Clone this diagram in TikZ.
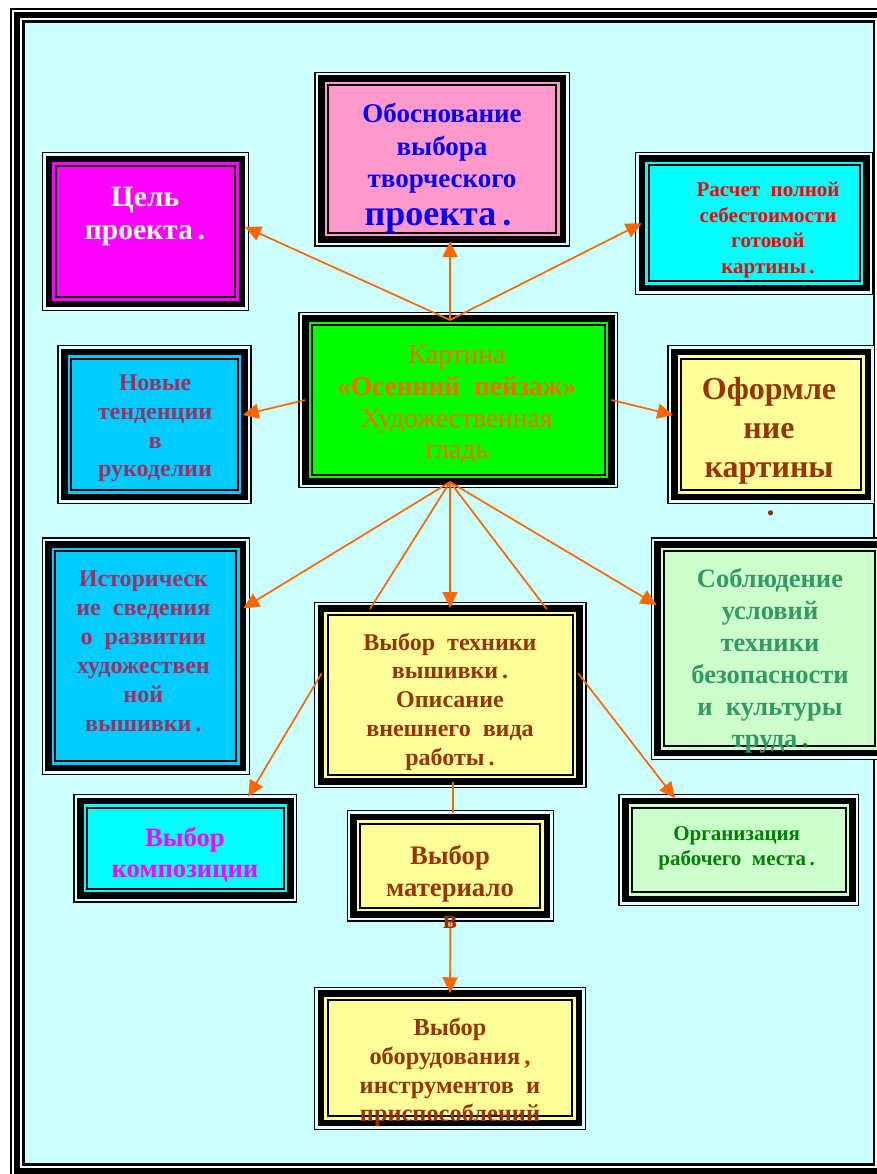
\documentclass[tikz,border=0pt]{standalone}
\usepackage{fontspec}
\setmainfont{Liberation Serif}
\usetikzlibrary{arrows.meta,calc}
\definecolor{bgc}{HTML}{CCFFFF}
\definecolor{gapc}{HTML}{DDFFFF}
\definecolor{magc}{HTML}{FF00FF}
\definecolor{pinkc}{HTML}{FF99CC}
\definecolor{cyanc}{HTML}{00FFFF}
\definecolor{greenc}{HTML}{00FF00}
\definecolor{yelc}{HTML}{FFFF99}
\definecolor{skyc}{HTML}{00CCFF}
\definecolor{lgreenc}{HTML}{CCFFCC}
\definecolor{brownc}{HTML}{993300}
\definecolor{plumc}{HTML}{993366}
\definecolor{seac}{HTML}{339966}
\definecolor{orangec}{HTML}{FF6600}
\definecolor{dgreenc}{HTML}{008000}
\definecolor{bluec}{HTML}{0000FF}
\definecolor{redc}{HTML}{FF0000}
\newcommand\insetr[2]{\fill[#2] ([shift={(#1pt,-#1pt)}]path picture bounding box.north west) rectangle ([shift={(-#1pt,#1pt)}]path picture bounding box.south east);}
\newcommand\fsz[2]{\fontsize{#1}{#2}\selectfont}
\tikzset{
  fbox/.style={rectangle, inner sep=0pt, outer sep=0pt, fill=black,
    path picture={\insetr{1.3}{gapc}\insetr{3.7}{black}\insetr{10.3}{#1}\insetr{12.7}{black}\insetr{14.7}{#1}}},
  arr/.style={draw=orangec, line width=1.7pt, -{Triangle[length=16pt,width=15pt]}},
  ln/.style={draw=orangec, line width=1.7pt},
  txt/.style={align=center, inner sep=0pt},
}
\begin{document}
\begin{tikzpicture}[x=1pt,y=-1pt]
\clip (0,0) rectangle (877,1174);
\useasboundingbox (0,0) rectangle (877,1174);
% page frame
\fill[white] (0,0) rectangle (877,1174);
\fill[black] (10,8.5) rectangle (887,1177.5);
\fill[white] (11.5,10) rectangle (885.5,1176);
\fill[black] (14,12.5) rectangle (883,1173.5);
\fill[white] (19.5,18) rectangle (877.5,1168);
\fill[black] (22,20.5) rectangle (875,1165.5);
\fill[bgc] (24.5,23) rectangle (872.5,1163);
% boxes
\node[fbox=magc, minimum width=207pt, minimum height=159pt] (cel) at (145.5,231.5) {};
\node[fbox=pinkc, minimum width=255.7pt, minimum height=175pt] (obos) at (442.2,159.2) {};
\node[fbox=cyanc, minimum width=238.3pt, minimum height=143.3pt] (rasch) at (754.2,223.3) {};
\node[fbox=greenc, minimum width=320pt, minimum height=176.6pt] (main) at (458.3,400) {};
\node[fbox=skyc, minimum width=194.4pt, minimum height=159pt] (novye) at (154.5,424.5) {};
\node[fbox=yelc, minimum width=207.7pt, minimum height=159pt] (oform) at (771.2,424.5) {};
\node[fbox=skyc, minimum width=208.3pt, minimum height=237.7pt] (istor) at (145.8,656.2) {};
\node[fbox=yelc, minimum width=272.7pt, minimum height=186.6pt] (tekh) at (450.3,695) {};
\node[fbox=lgreenc, minimum width=238.3pt, minimum height=222.7pt] (sobl) at (769.8,648.7) {};
\node[fbox=cyanc, minimum width=224pt, minimum height=108.7pt] (komp) at (185.3,848.3) {};
\node[fbox=yelc, minimum width=207.3pt, minimum height=111.7pt] (mater) at (450.3,865.8) {};
\node[fbox=lgreenc, minimum width=241pt, minimum height=112pt] (org) at (738.8,850) {};
\node[fbox=yelc, minimum width=272pt, minimum height=143.3pt] (oborud) at (450,1058.3) {};
% connectors
\coordinate (htop) at ($(main.north)+(-8.3,8.3)$);
\coordinate (hbot) at ($(main.south)+(-8.3,-6.3)$);
\draw[arr] (htop) -- ($(cel.east)+(-4,-4.5)$);
\draw[arr] (htop) -- ($(obos.south)+(7.8,-5.5)$);
\draw[arr] (htop) -- ($(rasch.west)+(6.7,0)$);
\draw[arr] ($(main.west)+(7,0)$) -- ($(novye.east)+(-9,-9.5)$);
\draw[arr] ($(main.east)+(-7,0)$) -- ($(oform.west)+(6,-9.5)$);
\draw[arr] (hbot) -- ($(istor.east)+(-6.7,-47.9)$);
\draw[arr] (hbot) -- ($(tekh.north)+(-0.3,6.3)$);
\draw[ln] (hbot) -- ($(tekh.north)+(-80.3,7.3)$);
\draw[ln] (hbot) -- ($(tekh.north)+(96.4,7.3)$);
\draw[arr] (hbot) -- ($(sobl.west)+(6,-43.7)$);
\draw[arr] ($(tekh.west)+(7.7,-21.7)$) -- ($(komp.north)+(63,2.7)$);
\draw[arr] ($(tekh.east)+(-8.4,-21.7)$) -- ($(org.north)+(-63.8,4.3)$);
\draw[ln] ($(tekh.south)+(2.4,-6.3)$) -- ($(mater.north)+(2.4,3)$);
\draw[arr] (mater.south) -- ($(oborud.north)+(0,6.6)$);
% texts
\node[txt, text=white, font=\fsz{29.5}{33}\bfseries] (celT) at (145,216.7) {Цель\\проекта\,.};
\node[txt, text=bluec, font=\fsz{27}{32.5}\bfseries] (obosT) at (442,148.5) {Обоснование\\выбора\\творческого};
\node[txt, text=bluec, font=\fsz{36}{38}\bfseries] (obosT2) at (438,221) {проекта\,.};
\node[txt, text=redc, font=\fsz{21}{25.5}\bfseries] (raschT) at (768,230) {Расчет\ \ полной\\себестоимости\\готовой\\картины\,.};
\node[txt, text=orangec, font=\fsz{27.5}{31.7}] (mainT) at (456.7,405) {Картина\\\textbf{«Осенний\ \ пейзаж»}\\Художественная\\гладь};
\node[txt, text=plumc, font=\fsz{24}{28.9}\bfseries] (novyeT) at (155,428.3) {Новые\\тенденции\\в\\рукоделии};
\node[txt, text=brownc, font=\fsz{32}{39.2}\bfseries] (oformT) at (769,430.8) {Оформле\\ние\\картины};
\node[txt, text=brownc, font=\fsz{32}{39.2}\bfseries] (oformD) at (770.7,513.3) {.};
\node[txt, text=plumc, font=\fsz{24}{29}\bfseries] (istorT) at (143.3,651.5) {Историческ\\ие\ \ сведения\\о\ \ развитии\\художествен\\ной\\вышивки\,.};
\node[txt, text=brownc, font=\fsz{24}{28.75}\bfseries] (tekhT) at (450,701.5) {Выбор\ \ техники\\вышивки\,.\\Описание\\внешнего\ \ вида\\работы\,.};
\node[txt, text=seac, font=\fsz{26.5}{32}\bfseries] (soblT) at (770,660.5) {Соблюдение\\условий\\техники\\безопасности\\и\ \ культуры\\труда{\color{dgreenc}\,.}};
\node[txt, text=magc, font=\fsz{26.6}{31.7}\bfseries] (kompT) at (185,854.8) {Выбор\\композиции};
\node[txt, text=brownc, font=\fsz{26.7}{31.7}\bfseries] (materT) at (450,887) {Выбор\\материало\\в};
\node[txt, text=dgreenc, font=\fsz{21}{25}\bfseries] (orgT) at (736.7,848) {Организация\\рабочего\ \ места\,.};
\node[txt, text=brownc, font=\fsz{24.4}{28.9}\bfseries] (oborudT) at (450,1072.5) {Выбор\\оборудования\,,\\инструментов\ \ и\\приспособлений};
\end{tikzpicture}
\end{document}
